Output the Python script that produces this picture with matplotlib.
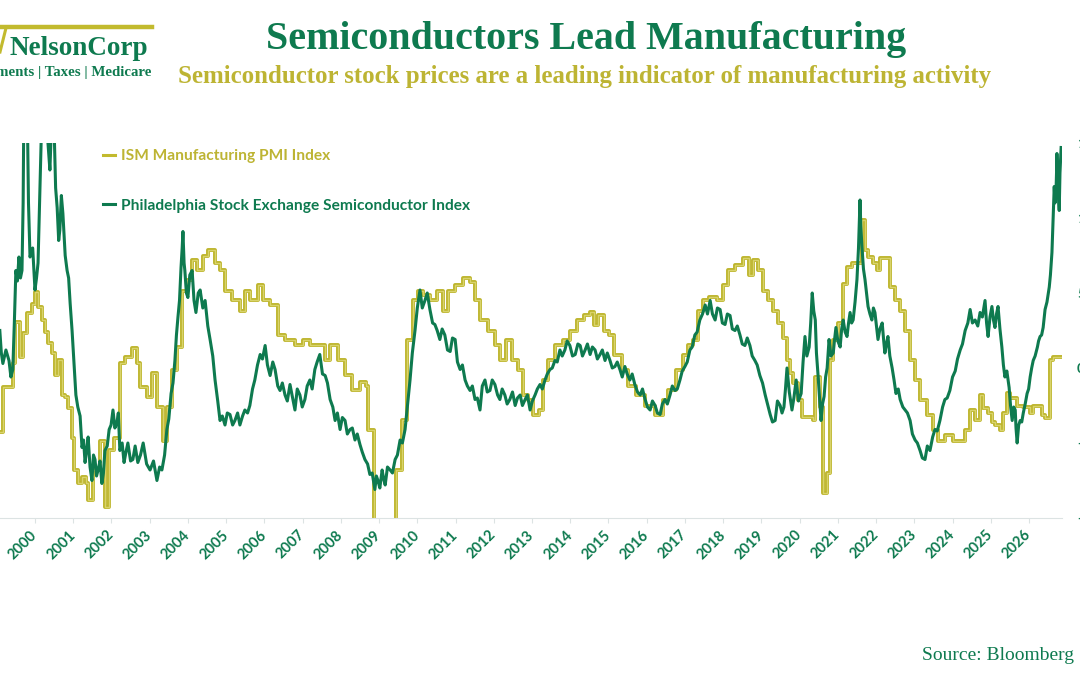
import numpy as np
import matplotlib.pyplot as plt
import matplotlib.patheffects as pe
from matplotlib.lines import Line2D

# colores
VERDE = "#0E7A4F"
ORO = "#C2BA2E"
ORO_TXT = "#BDB433"

# Philadelphia Semiconductor Index, variacion anual (%)
semi_years = [1999.08, 1999.16, 1999.32, 1999.42, 1999.50, 1999.58, 1999.66, 1999.71, 1999.79, 1999.87,
              2000.00, 2000.08, 2000.18, 2000.29, 2000.39, 2000.50, 2000.58, 2000.65, 2000.73, 2000.84,
              2000.92, 2001.02, 2001.12, 2001.23, 2001.31, 2001.39, 2001.49, 2001.57, 2001.65, 2001.75,
              2001.83, 2001.94, 2002.04, 2002.14, 2002.22, 2002.33, 2002.43, 2002.56, 2002.69, 2002.83,
              2003.01, 2003.19, 2003.32, 2003.45, 2003.56, 2003.66, 2003.74, 2003.82, 2003.87, 2003.92,
              2004.00, 2004.11, 2004.21, 2004.32, 2004.45, 2004.58, 2004.71, 2004.84, 2004.97, 2005.10,
              2005.23, 2005.36, 2005.49, 2005.62, 2005.75, 2005.89, 2006.02, 2006.15, 2006.28, 2006.41,
              2006.54, 2006.67, 2006.80, 2006.93, 2007.06, 2007.19, 2007.32, 2007.45, 2007.59, 2007.72,
              2007.85, 2007.98, 2008.11, 2008.24, 2008.37, 2008.50, 2008.63, 2008.76, 2008.89, 2008.97,
              2009.08, 2009.16, 2009.29, 2009.42, 2009.55, 2009.68, 2009.81, 2009.94, 2010.07, 2010.20,
              2010.33, 2010.46, 2010.59, 2010.72, 2010.86, 2010.99, 2011.12, 2011.25, 2011.38, 2011.51,
              2011.64, 2011.77, 2011.90, 2012.03, 2012.16, 2012.29, 2012.42, 2012.56, 2012.69, 2012.82,
              2012.95, 2013.08, 2013.21, 2013.34, 2013.47, 2013.60, 2013.73, 2013.86, 2013.99, 2014.13,
              2014.26, 2014.39, 2014.52, 2014.65, 2014.78, 2014.91, 2015.04, 2015.17, 2015.30, 2015.43,
              2015.56, 2015.69, 2015.83, 2015.96, 2016.09, 2016.22, 2016.35, 2016.48, 2016.61, 2016.74,
              2016.87, 2017.00, 2017.13, 2017.26, 2017.39, 2017.53, 2017.66, 2017.79, 2017.92, 2018.05,
              2018.18, 2018.31, 2018.44, 2018.57, 2018.70, 2018.83, 2018.96, 2019.10, 2019.23, 2019.36,
              2019.49, 2019.59, 2019.67, 2019.80, 2019.91, 2020.04, 2020.14, 2020.25, 2020.33, 2020.41,
              2020.48, 2020.56, 2020.64, 2020.72, 2020.77, 2020.88, 2020.95, 2021.06, 2021.14, 2021.24,
              2021.32, 2021.40, 2021.50, 2021.58, 2021.63, 2021.71, 2021.79, 2021.89, 2021.97, 2022.05,
              2022.16, 2022.23, 2022.31, 2022.42, 2022.52, 2022.63, 2022.76, 2022.89, 2023.02, 2023.15,
              2023.28, 2023.41, 2023.54, 2023.67, 2023.80, 2023.93, 2024.07, 2024.20, 2024.33, 2024.46,
              2024.59, 2024.72, 2024.85, 2024.93, 2025.03, 2025.11, 2025.19, 2025.29, 2025.37, 2025.48,
              2025.56, 2025.64, 2025.69, 2025.77, 2025.85, 2025.95, 2026.03, 2026.11, 2026.22, 2026.29,
              2026.37, 2026.42, 2026.53, 2026.60, 2026.66, 2026.71, 2026.73, 2026.79, 2026.84]
semi_yoy = [25, 3, 5, -1, 65, 74, 65, 175, 190, 74,
            52, 70, 170, 200, 132, 160, 107, 92, 103, 65,
            43, 3, -26, -53, -63, -46, -75, -61, -68, -77,
            -55, -41, -28, -37, -55, -63, -50, -61, -63, -50,
            -68, -75, -68, -41, -17, 5, 34, 67, 91, 65,
            47, 65, 37, 52, 45, 19, -8, -35, -38, -31,
            -35, -38, -28, -25, -8, 9, 15, -5, -1, -15,
            -18, -11, -28, -18, -21, -8, -1, 9, -5, -21,
            -35, -41, -35, -41, -48, -51, -61, -71, -81, -75,
            -68, -78, -68, -61, -48, -41, -8, 25, 52, 45,
            39, 29, 19, 22, 11, 19, -1, -8, -15, -21,
            -28, -8, -15, -11, -21, -18, -21, -25, -18, -21,
            -28, -18, -11, -8, -1, 5, 12, 12, 15, 9,
            15, 12, 9, 12, 9, 5, 5, 1, -1, 1,
            -8, -11, -18, -21, -28, -25, -31, -21, -18, -15,
            -8, 1, 12, 22, 32, 42, 45, 32, 39, 29,
            35, 25, 22, 15, 15, 5, -5, -18, -31, -35,
            -25, -26, 0, -28, -8, -17, 21, 14, 50, 32,
            -4, -35, -19, 0, 19, 10, 27, 14, 32, 21,
            37, 32, 59, 112, 81, 59, 41, 32, 37, 19,
            30, 10, 21, 0, -17, -21, -28, -35, -48, -55,
            -61, -55, -41, -35, -21, -15, -2, 12, 25, 39,
            32, 37, 45, 21, 41, 27, 41, 14, -6, -13,
            -35, -28, -50, -35, -30, -17, -6, 5, 14, 21,
            27, 39, 54, 77, 121, 121, 143, 105, 147]

# lecturas intermedias (el indice es semanal, muy dentado)
semi_years_mid = [1999.12, 1999.24, 1999.37, 1999.46, 1999.54, 1999.62, 1999.69, 1999.75, 1999.83, 1999.94,
                  2000.04, 2000.13, 2000.24, 2000.34, 2000.45, 2000.54, 2000.62, 2000.69, 2000.79, 2000.88,
                  2000.97, 2001.07, 2001.18, 2001.27, 2001.35, 2001.44, 2001.53, 2001.61, 2001.70, 2001.79,
                  2001.89, 2001.99, 2002.09, 2002.18, 2002.28, 2002.38, 2002.50, 2002.62, 2002.76, 2002.92,
                  2003.10, 2003.26, 2003.39, 2003.50, 2003.61, 2003.70, 2003.78, 2003.85, 2003.90, 2003.96,
                  2004.05, 2004.16, 2004.27, 2004.39, 2004.52, 2004.65, 2004.78, 2004.90, 2005.03, 2005.17,
                  2005.30, 2005.43, 2005.56, 2005.69, 2005.82, 2005.95, 2006.08, 2006.22, 2006.35, 2006.47,
                  2006.60, 2006.74, 2006.86, 2006.99, 2007.12, 2007.25, 2007.38, 2007.52, 2007.65, 2007.79,
                  2007.91, 2008.04, 2008.17, 2008.30, 2008.43, 2008.56, 2008.70, 2008.82, 2008.93, 2009.02,
                  2009.12, 2009.22, 2009.35, 2009.48, 2009.61, 2009.74, 2009.87, 2010.00, 2010.13, 2010.26,
                  2010.40, 2010.52, 2010.65, 2010.79, 2010.92, 2011.05, 2011.18, 2011.31, 2011.44, 2011.57,
                  2011.70, 2011.83, 2011.96, 2012.10, 2012.22, 2012.35, 2012.49, 2012.62, 2012.75, 2012.88,
                  2013.01, 2013.14, 2013.27, 2013.40, 2013.53, 2013.66, 2013.79, 2013.92, 2014.06, 2014.20,
                  2014.32, 2014.45, 2014.58, 2014.71, 2014.84, 2014.97, 2015.10, 2015.23, 2015.36, 2015.49,
                  2015.62, 2015.76, 2015.89, 2016.02, 2016.15, 2016.28, 2016.41, 2016.54, 2016.67, 2016.80,
                  2016.93, 2017.06, 2017.19, 2017.32, 2017.46, 2017.59, 2017.72, 2017.85, 2017.98, 2018.11,
                  2018.24, 2018.37, 2018.50, 2018.63, 2018.76, 2018.89, 2019.03, 2019.16, 2019.29, 2019.42,
                  2019.54, 2019.63, 2019.73, 2019.85, 2019.97, 2020.09, 2020.19, 2020.29, 2020.37, 2020.44,
                  2020.52, 2020.60, 2020.68, 2020.74, 2020.82, 2020.91, 2021.00, 2021.10, 2021.19, 2021.28,
                  2021.36, 2021.45, 2021.54, 2021.60, 2021.67, 2021.75, 2021.84, 2021.93, 2022.01, 2022.10,
                  2022.20, 2022.27, 2022.36, 2022.47, 2022.58, 2022.70, 2022.82, 2022.95, 2023.08, 2023.21,
                  2023.34, 2023.48, 2023.60, 2023.74, 2023.86, 2024.00, 2024.13, 2024.26, 2024.40, 2024.52,
                  2024.66, 2024.78, 2024.89, 2024.98, 2025.07, 2025.15, 2025.24, 2025.33, 2025.42, 2025.52,
                  2025.60, 2025.66, 2025.73, 2025.81, 2025.90, 2025.99, 2026.07, 2026.16, 2026.25, 2026.33,
                  2026.39, 2026.47, 2026.56, 2026.63, 2026.68, 2026.72, 2026.76, 2026.81]
semi_yoy_mid = [10, 12, -6, 30, 58, 60, 110, 200, 110, 80,
                60, 120, 210, 150, 175, 120, 85, 115, 75, 60,
                25, -18, -32, -48, -55, -66, -58, -72, -62, -70,
                -52, -38, -40, -30, -50, -56, -62, -52, -58, -64,
                -62, -66, -58, -34, -10, 22, 45, 80, 70, 50,
                62, 45, 50, 40, 28, 8, -22, -32, -30, -38,
                -30, -32, -30, -14, 2, 6, 2, 4, -12, -10,
                -22, -20, -14, -26, -12, -14, 4, -4, -10, -26,
                -30, -33, -44, -40, -44, -56, -64, -70, -72, -80,
                -74, -66, -70, -58, -50, -26, 10, 40, 40, 50,
                30, 25, 26, 12, 20, 4, 2, -12, -12, -20,
                -12, -16, -8, -18, -14, -24, -16, -20, -25, -18,
                -22, -14, -14, -4, 0, 4, 8, 18, 8, 16,
                8, 16, 14, 6, 12, 10, 0, 4, -6, -4,
                -4, -16, -14, -26, -22, -30, -24, -24, -12, -14,
                -2, 4, 14, 24, 36, 36, 36, 40, 30, 36,
                26, 28, 16, 20, 8, 2, -10, -24, -36, -22,
                -30, -14, -16, -20, -22, 4, 8, 30, 38, 10,
                -20, -24, -6, 8, 8, 18, 18, 26, 24, 30,
                30, 44, 80, 95, 66, 50, 36, 40, 28, 26,
                18, 16, 8, -8, -14, -26, -30, -44, -50, -60,
                -52, -46, -42, -26, -20, -6, 6, 16, 30, 30,
                28, 34, 30, 34, 32, 36, 26, 2, -2, -26,
                -26, -40, -38, -36, -24, -14, 0, 8, 18, 22,
                32, 44, 62, 100, 110, 130, 120, 130]

# ISM Manufacturing PMI (mensual, escalonado)
pmi_years = [1999.08, 1999.16, 1999.42, 1999.48, 1999.61, 1999.69, 1999.79, 1999.92, 2000.00, 2000.08,
             2000.18, 2000.26, 2000.34, 2000.44, 2000.52, 2000.60, 2000.71, 2000.78, 2000.86, 2000.97,
             2001.02, 2001.12, 2001.23, 2001.33, 2001.39, 2001.52, 2001.70, 2001.83, 2001.94, 2002.07,
             2002.22, 2002.35, 2002.54, 2002.67, 2002.75, 2002.93, 2003.06, 2003.19, 2003.35, 2003.45,
             2003.58, 2003.71, 2003.85, 2003.98, 2004.11, 2004.24, 2004.39, 2004.53, 2004.71, 2004.84,
             2004.97, 2005.15, 2005.36, 2005.49, 2005.62, 2005.83, 2005.96, 2006.15, 2006.36, 2006.54,
             2006.80, 2007.01, 2007.19, 2007.45, 2007.59, 2007.72, 2007.93, 2008.11, 2008.29, 2008.50,
             2008.66, 2008.71, 2008.87, 2009.44, 2009.60, 2009.73, 2009.89, 2010.02, 2010.15, 2010.33,
             2010.52, 2010.67, 2010.80, 2010.99, 2011.20, 2011.38, 2011.51, 2011.64, 2011.85, 2012.03,
             2012.16, 2012.32, 2012.48, 2012.63, 2012.76, 2012.90, 2013.03, 2013.18, 2013.29, 2013.42,
             2013.60, 2013.81, 2013.99, 2014.18, 2014.36, 2014.52, 2014.62, 2014.73, 2014.88, 2015.01,
             2015.14, 2015.35, 2015.51, 2015.72, 2015.96, 2016.22, 2016.43, 2016.56, 2016.77, 2016.95,
             2017.08, 2017.21, 2017.34, 2017.47, 2017.63, 2017.84, 2018.00, 2018.13, 2018.31, 2018.52,
             2018.68, 2018.78, 2018.91, 2019.04, 2019.17, 2019.30, 2019.43, 2019.57, 2019.67, 2019.75,
             2019.83, 2019.96, 2020.06, 2020.35, 2020.40, 2020.53, 2020.61, 2020.72, 2020.79, 2020.87,
             2021.00, 2021.14, 2021.24, 2021.37, 2021.63, 2021.71, 2021.79, 2021.92, 2022.03, 2022.10,
             2022.37, 2022.50, 2022.63, 2022.76, 2022.89, 2023.02, 2023.15, 2023.33, 2023.49, 2023.62,
             2023.80, 2024.01, 2024.20, 2024.33, 2024.46, 2024.59, 2024.72, 2024.80, 2024.93, 2025.03,
             2025.11, 2025.24, 2025.32, 2025.42, 2025.50, 2025.69, 2025.84, 2026.03, 2026.11, 2026.34,
             2026.42, 2026.55, 2026.63, 2026.86]
pmi_vals = [47.3, 51.2, 53.2, 56.7, 53.7, 55.8, 57.5, 58.3, 59.3, 58.0,
            56.9, 55.9, 54.9, 54.1, 52.2, 53.5, 50.5, 50.3, 49.4, 46.8,
            44.1, 43.0, 43.5, 43.0, 41.5, 44.1, 46.6, 40.9, 45.8, 46.8,
            53.2, 53.7, 54.5, 53.2, 51.2, 50.3, 52.4, 49.5, 46.6, 49.5,
            52.6, 54.6, 59.4, 60.3, 62.0, 61.2, 62.4, 62.9, 61.8, 61.2,
            59.4, 58.6, 57.7, 59.4, 58.6, 59.9, 58.6, 58.2, 55.6, 55.2,
            54.8, 55.2, 54.8, 54.8, 53.5, 54.8, 53.5, 52.2, 50.9, 51.6,
            51.3, 47.5, 38.5, 44.1, 48.4, 55.2, 58.6, 59.4, 59.0, 58.6,
            59.4, 57.7, 59.4, 59.9, 60.5, 60.1, 58.6, 56.9, 56.0, 54.8,
            53.5, 55.2, 53.5, 52.6, 50.5, 50.1, 48.8, 49.2, 51.8, 53.5,
            54.8, 55.2, 56.0, 56.9, 57.3, 57.6, 56.5, 57.3, 56.0, 55.6,
            53.9, 52.6, 51.3, 50.5, 49.6, 48.8, 50.1, 50.9, 52.6, 53.9,
            54.8, 55.2, 57.7, 58.6, 58.9, 58.6, 59.9, 61.2, 61.6, 62.2,
            60.7, 62.0, 61.2, 59.4, 58.6, 57.7, 56.6, 55.4, 53.5, 52.4,
            51.5, 50.1, 48.6, 48.4, 52.0, 49.5, 42.1, 43.8, 53.5, 55.2,
            56.6, 60.0, 61.4, 61.8, 65.4, 62.9, 62.3, 61.8, 61.2, 62.2,
            59.7, 58.6, 57.7, 56.0, 53.5, 51.8, 50.1, 48.8, 47.5, 46.6,
            47.1, 46.6, 46.6, 47.5, 49.2, 48.4, 50.5, 49.4, 49.0, 48.2,
            47.9, 47.5, 49.0, 50.7, 50.2, 49.6, 49.5, 49.0, 49.6, 48.8,
            48.5, 53.5, 53.7, 53.7]

years = list(range(2000, 2027))
right_ticks = [-100, -50, 0, 50, 100, 150]

# juntar las dos lecturas del indice en orden de fecha
sx = np.array(semi_years + semi_years_mid)
sy = np.array(semi_yoy + semi_yoy_mid)
orden = np.argsort(sx)
sx, sy = sx[orden], sy[orden]

fig = plt.figure(figsize=(10.8, 6.75), dpi=100)
W, H = 1080, 675
ax = fig.add_axes([0, 1 - 518 / H, 1062 / W, 375 / H])

# PMI en el eje izquierdo (fuera de la imagen)
ax.plot(pmi_years, pmi_vals, drawstyle="steps-post", color="#D8D36C", lw=1.0,
        path_effects=[pe.Stroke(linewidth=2.8, foreground="#BDB42C"), pe.Normal()])
ax.set_ylim(40, 72)
ax.set_yticks([])
ax.set_xlim(1999.085, 2026.863)
ax.set_xticks(years)
ax.set_xticklabels([str(y) for y in years])
for lab in ax.get_xticklabels():
    lab.set_rotation(45)
    lab.set_ha("right")
    lab.set_va("center")
    lab.set_rotation_mode("anchor")
    lab.set_family("Lato")
    lab.set_weight("bold")
    lab.set_fontsize(10.5)
    lab.set_color(VERDE)
ax.tick_params(axis="x", length=3.6, width=0.8, color="#DCE3E3", pad=7)
for s in ["top", "left", "right"]:
    ax.spines[s].set_visible(False)
ax.spines["bottom"].set_color("#DCE3E3")
ax.spines["bottom"].set_linewidth(0.8)

# semis en el eje derecho
ax2 = ax.twinx()
ax2.plot(sx, sy, color=VERDE, lw=2.2)
ax2.set_ylim(-100, 150)
ax2.set_yticks(right_ticks)
ax2.set_yticklabels([f"{v}%" for v in right_ticks], family="Lato", weight="bold",
                    fontsize=10, color=VERDE)
ax2.tick_params(axis="y", length=0, pad=10.8)
for s in ax2.spines.values():
    s.set_visible(False)

handles = [Line2D([], [], color=ORO, lw=2.2), Line2D([], [], color=VERDE, lw=2.2)]
leg = ax2.legend(handles, ["ISM Manufacturing PMI Index",
                           "Philadelphia Stock Exchange Semiconductor Index"],
                 loc="upper left", bbox_to_anchor=(103 / W, 1 - 149 / H),
                 bbox_transform=fig.transFigure, frameon=False, borderpad=0,
                 borderaxespad=0, handlelength=0.8, handletextpad=0.35,
                 labelspacing=2.3, prop={"family": "Lato", "weight": "bold", "size": 11.2})
leg.get_texts()[0].set_color(ORO_TXT)
leg.get_texts()[1].set_color(VERDE)

# titulos
fig.text(586 / W, 1 - 40 / H, "Semiconductors Lead Manufacturing", ha="center", va="center",
         family="Liberation Serif", weight="bold", fontsize=28.8, color=VERDE)
fig.text(585 / W, 1 - 77 / H, "Semiconductor stock prices are a leading indicator of manufacturing activity",
         ha="center", va="center", family="Liberation Serif", weight="bold", fontsize=17.9, color=ORO_TXT)

# logo
fig.add_artist(Line2D([0, 152 / W], [1 - 27 / H, 1 - 27 / H], color=ORO, lw=3.2))
fig.add_artist(Line2D([6 / W, 0], [1 - 28 / H, 1 - 52 / H], color=ORO, lw=2.2))
fig.text(9 / W, 1 - 55 / H, "NelsonCorp", ha="left", va="baseline",
         family="Liberation Serif", weight="bold", fontsize=19.5, color=VERDE)
fig.text(151 / W, 1 - 76 / H, "Investments | Taxes | Medicare", ha="right", va="baseline",
         family="Liberation Serif", weight="bold", fontsize=10.7, color=VERDE)

fig.text(922 / W, 1 - 655 / H, "Source: Bloomberg", ha="left", va="center",
         family="Liberation Serif", fontsize=14, color=VERDE)

fig.savefig("out.png", dpi=100)
